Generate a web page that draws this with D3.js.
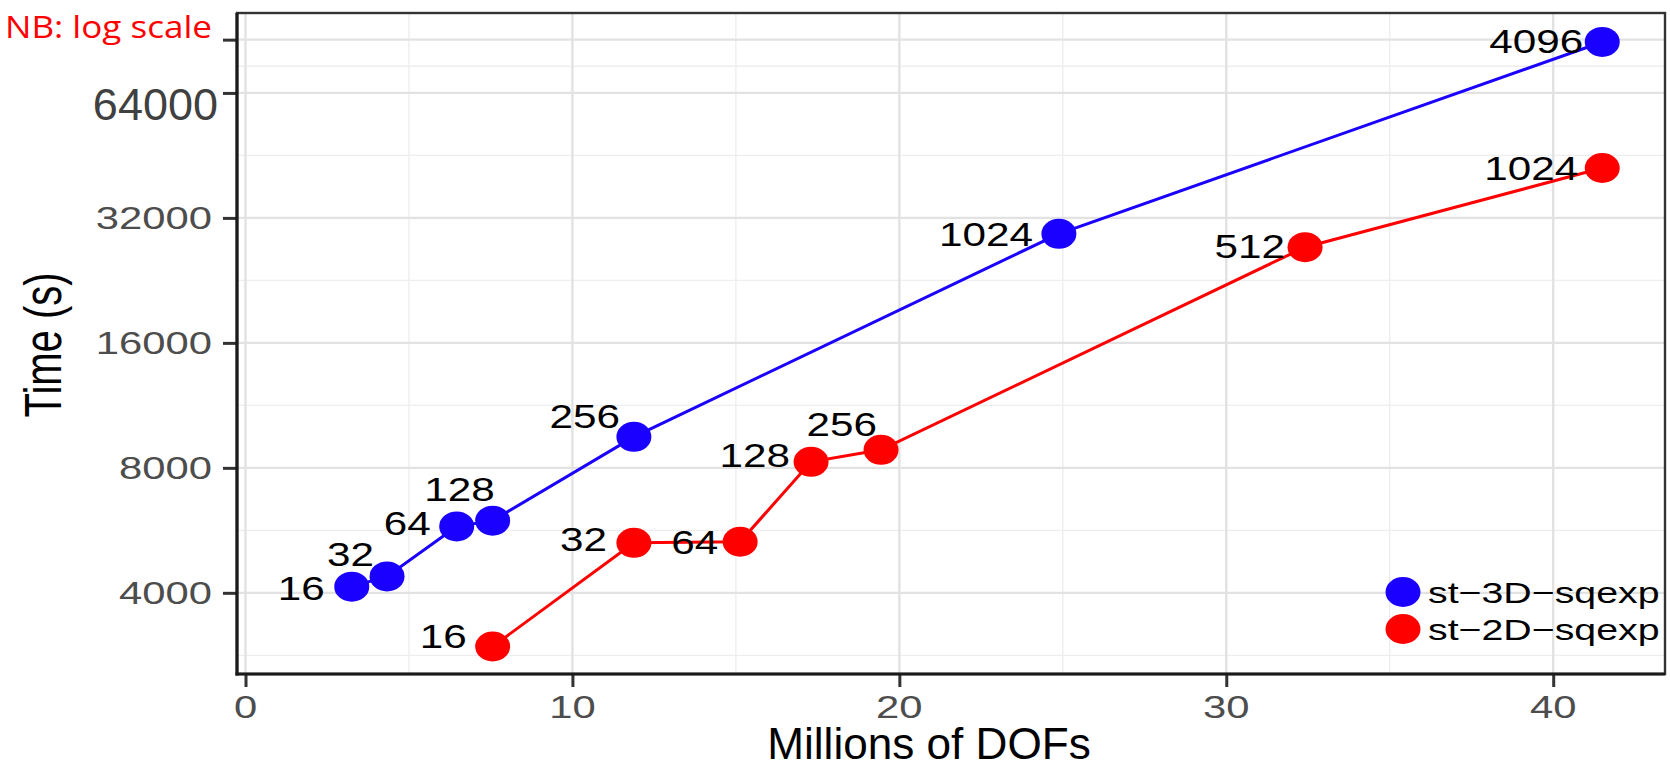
<!DOCTYPE html>
<html>
<head>
<meta charset="utf-8">
<script src="https://cdn.jsdelivr.net/npm/d3@7"></script>
<style>
  html, body { margin: 0; padding: 0; background: #ffffff; }
  svg { display: block; }
</style>
</head>
<body>
<svg id="chart" width="1670" height="767"></svg>
<script>
// ---------------- data ----------------
const seriesNames = ["st\u22123D\u2212sqexp", "st\u22122D\u2212sqexp"];
const seriesColors = ["#1a00ff", "#ff0000"];

const cores3D = [16, 32, 64, 128, 256, 1024, 4096];
const dofs3D  = [3.25, 4.33, 6.46, 7.56, 11.88, 24.88, 41.5];
const time3D  = [4140, 4380, 5780, 5970, 9500, 29300, 84900];

const cores2D = [16, 32, 64, 128, 256, 512, 1024];
const dofs2D  = [7.56, 11.88, 15.13, 17.30, 19.44, 32.41, 41.5];
const time2D  = [2970, 5280, 5310, 8270, 8840, 27200, 42200];

const xTicks = [0, 10, 20, 30, 40];
const xMinor = [5, 15, 25, 35];
const yTicks = [4000, 8000, 16000, 32000, 64000];
const yTickLabels = ["4000", "8000", "16000", "32000", "64000"];
const yExtraTicks = [86000];            // unlabeled tick at the top
const yMinor = [2828, 5657, 11314, 22627, 45255, 74190];

// label placement (layout only): [dx of label right end, dy of label centre] from point centre
const labelOffsets3D = [[-27, 1], [-13, -22], [-26, -3], [2, -32], [-14, -21], [-26, 0], [-19, -1]];
const labelOffsets2D = [[-26, -10], [-27, -4], [-22, 0], [-21, -7], [-4, -26], [-20, -1], [-24, 0]];

// ---------------- layout ----------------
const P = { left: 237, right: 1665, top: 13, bottom: 674 };
const FONT = "'Liberation Sans', Arial, Helvetica, sans-serif";
const SX = 1.3;   // horizontal stretch of the original picture's text

const svg = d3.select("#chart");
const x = d3.scaleLinear().domain([-0.26, 43.42]).range([P.left, P.right]);
const y = d3.scaleLog().base(2).domain([2550, 99700]).range([P.bottom, P.top]);

// background
svg.append("rect").attr("x", 0).attr("y", 0).attr("width", 1670).attr("height", 767).attr("fill", "#fff");

// grid
const grid = svg.append("g");
grid.selectAll(".ym").data(yMinor).enter().append("line")
  .attr("x1", P.left).attr("x2", P.right)
  .attr("y1", d => y(d)).attr("y2", d => y(d))
  .attr("stroke", "#eeeeee").attr("stroke-width", 1.4);
grid.selectAll(".xm").data(xMinor).enter().append("line")
  .attr("y1", P.top).attr("y2", P.bottom)
  .attr("x1", d => x(d)).attr("x2", d => x(d))
  .attr("stroke", "#eeeeee").attr("stroke-width", 1.4);
grid.selectAll(".yM").data(yTicks.concat(yExtraTicks)).enter().append("line")
  .attr("x1", P.left).attr("x2", P.right)
  .attr("y1", d => y(d)).attr("y2", d => y(d))
  .attr("stroke", "#e2e2e2").attr("stroke-width", 2.4);
grid.selectAll(".xM").data(xTicks).enter().append("line")
  .attr("y1", P.top).attr("y2", P.bottom)
  .attr("x1", d => x(d)).attr("x2", d => x(d))
  .attr("stroke", "#e2e2e2").attr("stroke-width", 2.4);

// panel border
svg.append("rect").attr("x", P.left).attr("y", P.top)
  .attr("width", P.right - P.left).attr("height", P.bottom - P.top)
  .attr("fill", "none").attr("stroke", "#333").attr("stroke-width", 2.4);

// helper for stretched text
function stretchedText(parent, px, py, str, opts) {
  const g = parent.append("g").attr("transform", `translate(${px},${py}) scale(${opts.sx || SX},1)`);
  return g.append("text")
    .attr("x", 0).attr("y", 0).attr("dy", "0.36em")
    .attr("text-anchor", opts.anchor || "end")
    .attr("font-family", opts.family || FONT)
    .attr("font-size", opts.size)
    .attr("fill", opts.fill || "#000")
    .text(str);
}

// y axis
const yAxis = d3.axisLeft(y).tickValues(yTicks.concat(yExtraTicks))
  .tickSize(14).tickSizeOuter(0).tickFormat(() => "");
const gy = svg.append("g").attr("transform", `translate(${P.left},0)`).call(yAxis);
gy.select(".domain").remove();
gy.selectAll(".tick line").attr("stroke", "#333").attr("stroke-width", 3);
yTicks.forEach((v, i) => {
  if (v === 64000) {
    svg.append("text").attr("x", 218).attr("y", y(v) + 10.5).attr("dy", "0.36em")
      .attr("text-anchor", "end").attr("font-family", FONT).attr("font-size", 45)
      .attr("fill", "#404040").text(yTickLabels[i]);
  } else {
    stretchedText(svg, P.left - 25, y(v), yTickLabels[i], { size: 30.5, fill: "#4d4d4d", sx: 1.37 });
  }
});

// x axis
const xAxis = d3.axisBottom(x).tickValues(xTicks).tickSize(13).tickSizeOuter(0).tickFormat(() => "");
const gx = svg.append("g").attr("transform", `translate(0,${P.bottom})`).call(xAxis);
gx.select(".domain").remove();
gx.selectAll(".tick line").attr("stroke", "#333").attr("stroke-width", 3);
xTicks.forEach(v => {
  stretchedText(svg, x(v), P.bottom + 33, String(v), { size: 30.5, fill: "#4d4d4d", anchor: "middle", sx: 1.37 });
});

// axis lines (left & bottom, heavier)
svg.append("line").attr("x1", P.left).attr("x2", P.left).attr("y1", P.top).attr("y2", P.bottom + 1.5)
  .attr("stroke", "#1a1a1a").attr("stroke-width", 3.2);
svg.append("line").attr("x1", P.left - 1.5).attr("x2", P.right).attr("y1", P.bottom).attr("y2", P.bottom)
  .attr("stroke", "#1a1a1a").attr("stroke-width", 3.2);

// series
const series = [
  { name: seriesNames[0], color: seriesColors[0], xs: dofs3D, ys: time3D, labels: cores3D, off: labelOffsets3D },
  { name: seriesNames[1], color: seriesColors[1], xs: dofs2D, ys: time2D, labels: cores2D, off: labelOffsets2D }
];
const line = d3.line().x(d => x(d[0])).y(d => y(d[1]));
const RX = 17.5, RY = 15;

series.forEach(s => {
  const pts = s.xs.map((v, i) => [v, s.ys[i]]);
  svg.append("path").datum(pts).attr("d", line)
    .attr("fill", "none").attr("stroke", s.color).attr("stroke-width", 3);
});
series.forEach(s => {
  const pts = s.xs.map((v, i) => [v, s.ys[i]]);
  svg.append("g").selectAll("ellipse").data(pts).enter().append("ellipse")
    .attr("cx", d => x(d[0])).attr("cy", d => y(d[1]))
    .attr("rx", RX).attr("ry", RY).attr("fill", s.color);
});
series.forEach(s => {
  s.xs.forEach((v, i) => {
    const px = x(v), py = y(s.ys[i]);
    stretchedText(svg, px + s.off[i][0], py + s.off[i][1], String(s.labels[i]), { size: 33, sx: 1.28 });
  });
});

// legend
const legendY = [592, 629];
series.forEach((s, i) => {
  svg.append("ellipse").attr("cx", 1403).attr("cy", legendY[i]).attr("rx", RX).attr("ry", RY).attr("fill", s.color);
  stretchedText(svg, 1428, legendY[i], s.name, { size: 30, anchor: "start", sx: 1.31 });
});

// titles
svg.append("g").attr("transform", "translate(929,759) scale(0.98,1)")
  .append("text").attr("x", 0).attr("y", 0).attr("text-anchor", "middle")
  .attr("font-family", FONT).attr("font-size", 45).attr("fill", "#000").text("Millions of DOFs");
svg.append("g").attr("transform", "translate(61,345) scale(1.3,1) rotate(-90)")
  .append("text").attr("x", 0).attr("y", 0).attr("text-anchor", "middle")
  .attr("font-family", FONT).attr("font-size", 40).attr("fill", "#000").text("Time (s)");

// annotation
svg.append("text").attr("x", 5).attr("y", 38)
  .attr("font-family", "'Open Sans', 'Noto Sans', sans-serif").attr("font-size", 31)
  .attr("textLength", 207).attr("lengthAdjust", "spacingAndGlyphs")
  .attr("fill", "#ff0000").text("NB: log scale");
</script>
</body>
</html>
